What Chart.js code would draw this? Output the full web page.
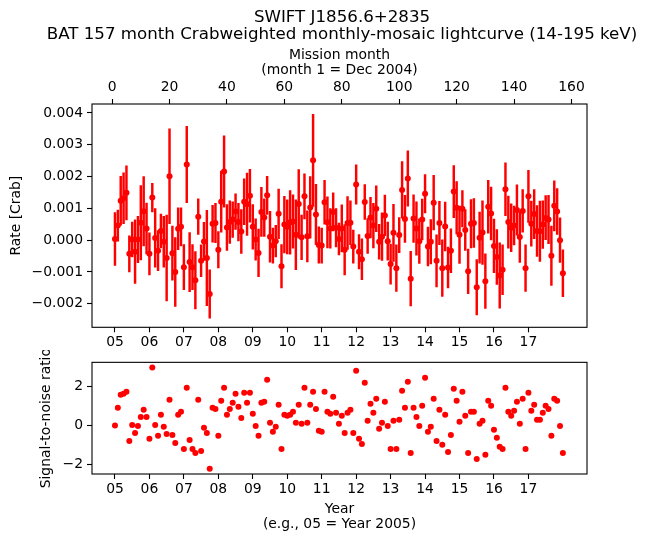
<!DOCTYPE html>
<html>
<head>
<meta charset="utf-8">
<script src="https://cdn.jsdelivr.net/npm/chart.js@4"></script>
<style>
  body { margin: 0; background: #fff; }
  #wrap { position: relative; width: 646px; height: 543px; }
  #top { position: absolute; left: 0; top: 0; }
  #bottom { position: absolute; left: 0; top: 350px; }
  #title {
    position: absolute; left: 42px; width: 600px; top: 8px;
    font-family: 'DejaVu Sans'; font-size: 16.67px; line-height: 17px;
    text-align: center; color: #000; white-space: nowrap;
  }
</style>
</head>
<body>
<div id="wrap">
  <canvas id="top" width="646" height="350"></canvas>
  <canvas id="bottom" width="646" height="193"></canvas>
  <div id="title">SWIFT J1856.6+2835<br>BAT 157 month Crabweighted monthly-mosaic lightcurve (14-195 keV)</div>
</div>
<script>
// mission month of each point (month 1 = Dec 2004)
const months = Array.from({length: 157}, (_, i) => i + 1);

// rate [Crab]
const rate = [
  0.00004, 0.00046, 0.00124, 0.00132, 0.00149, -0.00043, 0.00002, -0.00036, 0.00002, 0.00055,
  0.00091, 0.00037, -0.00043, 0.00134, 0.00007, -0.00033, 0.00029, -0.00005, -0.00056, 0.00201,
  -0.00041, -0.00100, 0.00036, 0.00042, -0.00085, 0.00238, -0.00069, -0.00085, -0.00126, 0.00074,
  -0.00065, -0.00004, -0.00056, -0.00169, 0.00052, 0.00054, -0.00030, 0.00121, 0.00216, 0.00040,
  0.00057, 0.00065, 0.00090, 0.00057, 0.00027, 0.00121, 0.00113, 0.00140, 0.00042, 0.00002,
  -0.00040, 0.00089, 0.00071, 0.00141, 0.00011, -0.00017, -0.00003, 0.00083, -0.00082, 0.00049,
  0.00042, 0.00056, 0.00059, 0.00017, 0.00114, 0.00009, 0.00138, 0.00012, 0.00103, 0.00251,
  0.00081, -0.00015, -0.00017, 0.00119, 0.00056, 0.00037, 0.00089, 0.00039, 0.00004, 0.00037,
  -0.00030, 0.00054, 0.00055, -0.00020, 0.00175, -0.00036, -0.00060, 0.00120, 0.00013, 0.00071,
  0.00046, 0.00099, -0.00005, 0.00011, 0.00078, -0.00003, -0.00075, 0.00023, -0.00088, 0.00016,
  0.00158, 0.00067, 0.00194, -0.00121, 0.00068, 0.00037, -0.00003, 0.00065, 0.00146, -0.00020,
  -0.00005, 0.00118, -0.00065, 0.00054, -0.00088, 0.00043, -0.00086, -0.00033, 0.00153, 0.00102,
  0.00017, 0.00099, 0.00032, -0.00098, 0.00052, 0.00054, -0.00148, 0.00008, 0.00024, -0.00129,
  0.00105, 0.00084, -0.00018, -0.00053, -0.00111, -0.00093, 0.00160, 0.00057, 0.00039, 0.00046,
  0.00095, 0.00010, 0.00092, -0.00088, 0.00138, 0.00052, 0.00082, 0.00029, 0.00028, 0.00049,
  0.00070, 0.00065, -0.00049, 0.00108, 0.00090, 0.00000, -0.00104
];

// 1-sigma error on the rate
const rateErr = [
  0.00083, 0.00049, 0.00077, 0.00080, 0.00085, 0.00057, 0.00055, 0.00100, 0.00073, 0.00117,
  0.00109, 0.00080, 0.00066, 0.00045, 0.00092, 0.00063, 0.00053, 0.00080, 0.00135, 0.00149,
  0.00085, 0.00108, 0.00066, 0.00060, 0.00071, 0.00120, 0.00093, 0.00071, 0.00090, 0.00056,
  0.00050, 0.00060, 0.00150, 0.00076, 0.00058, 0.00062, 0.00057, 0.00096, 0.00112, 0.00072,
  0.00067, 0.00056, 0.00056, 0.00059, 0.00069, 0.00072, 0.00098, 0.00083, 0.00070, 0.00065,
  0.00075, 0.00077, 0.00059, 0.00060, 0.00080, 0.00055, 0.00050, 0.00078, 0.00068, 0.00089,
  0.00085, 0.00100, 0.00084, 0.00110, 0.00108, 0.00070, 0.00071, 0.00080, 0.00097, 0.00145,
  0.00095, 0.00057, 0.00055, 0.00069, 0.00080, 0.00062, 0.00060, 0.00060, 0.00050, 0.00074,
  0.00079, 0.00083, 0.00069, 0.00052, 0.00062, 0.00054, 0.00064, 0.00055, 0.00055, 0.00064,
  0.00070, 0.00072, 0.00055, 0.00075, 0.00064, 0.00060, 0.00063, 0.00090, 0.00073, 0.00055,
  0.00089, 0.00074, 0.00087, 0.00086, 0.00075, 0.00084, 0.00070, 0.00064, 0.00060, 0.00061,
  0.00070, 0.00086, 0.00082, 0.00068, 0.00089, 0.00077, 0.00064, 0.00069, 0.00082, 0.00082,
  0.00090, 0.00057, 0.00064, 0.00070, 0.00076, 0.00077, 0.00087, 0.00080, 0.00100, 0.00086,
  0.00083, 0.00083, 0.00084, 0.00086, 0.00103, 0.00078, 0.00083, 0.00082, 0.00075, 0.00061,
  0.00079, 0.00080, 0.00067, 0.00073, 0.00082, 0.00071, 0.00077, 0.00080, 0.00095, 0.00075,
  0.00070, 0.00076, 0.00093, 0.00079, 0.00072, 0.00070, 0.00074
];

// signal-to-noise ratio
const snr = [
  0.00, 0.91, 1.57, 1.62, 1.73, -0.79, 0.03, -0.38, -0.02, 0.44,
  0.80, 0.44, -0.68, 2.96, 0.03, -0.53, 0.55, -0.07, -0.43, 1.32,
  -0.48, -0.89, 0.55, 0.70, -1.20, 1.93, -0.74, -1.20, -1.40, 1.32,
  -1.30, -0.12, -0.38, -2.21, 0.91, 0.85, -0.53, 1.26, 1.93, 0.55,
  0.85, 1.16, 1.62, 0.96, 0.39, 1.68, 1.16, 1.68, 0.60, -0.02,
  -0.53, 1.16, 1.21, 2.34, 0.14, -0.32, -0.07, 1.06, -1.20, 0.55,
  0.50, 0.55, 0.70, 0.14, 1.06, 0.09, 1.93, 0.14, 1.06, 1.73,
  0.85, -0.27, -0.32, 1.73, 0.70, 0.60, 1.47, 0.65, 0.09, 0.50,
  -0.38, 0.65, 0.80, -0.38, 2.80, -0.68, -0.94, 2.19, 0.24, 1.11,
  0.65, 1.37, -0.17, 0.14, 1.21, -0.02, -1.20, 0.24, -1.20, 0.29,
  1.78, 0.91, 2.24, -1.40, 0.91, 0.44, -0.02, 1.01, 2.44, -0.32,
  -0.07, 1.37, -0.79, 0.80, -0.99, 0.55, -1.35, -0.48, 1.88, 1.26,
  0.19, 1.73, 0.50, -1.40, 0.70, 0.70, -1.71, 0.09, 0.24, -1.50,
  1.26, 1.01, -0.22, -0.63, -1.09, -1.20, 1.93, 0.70, 0.50, 0.75,
  1.21, 0.09, 1.37, -1.20, 1.68, 0.75, 1.06, 0.29, 0.29, 0.65,
  1.01, 0.85, -0.53, 1.37, 1.26, -0.02, -1.40
];

// tick positions / labels
const monthTicks = [0, 20, 40, 60, 80, 100, 120, 140, 160];
const yearTickPos = [1, 13, 25, 37, 49, 61, 73, 85, 97, 109, 121, 133, 145];
const yearTickLabels = ['05', '06', '07', '08', '09', '10', '11', '12', '13', '14', '15', '16', '17'];
const rateTicks = [-0.002, -0.001, 0, 0.001, 0.002, 0.003, 0.004];
const rateTickLabels = ['\u22120.002', '\u22120.001', '0.000', '0.001', '0.002', '0.003', '0.004'];
const snrTicks = [-2, 0, 2];
const snrTickLabels = ['\u22122', '0', '2'];

const FONT = 'DejaVu Sans';
Chart.defaults.font.family = FONT;
Chart.defaults.font.size = 13.9;
Chart.defaults.color = '#000';

const xMin = -7, xMax = 165.4;

// matplotlib style frame around the plot area
const frame = {
  id: 'frame',
  afterDraw(chart) {
    const a = chart.chartArea, ctx = chart.ctx;
    ctx.save();
    ctx.strokeStyle = '#000';
    ctx.lineWidth = 1.1;
    ctx.strokeRect(a.left, a.top, a.right - a.left, a.bottom - a.top);
    ctx.restore();
  }
};

function tickAxis(extra) {
  return Object.assign({
    type: 'linear',
    offset: false,
    border: { display: false },
    grid: { offset: false, drawOnChartArea: false, drawTicks: true, tickLength: 5, color: '#000', tickWidth: 1.1 },
  }, extra);
}

function yearAxis(height, title) {
  return tickAxis({
    position: 'bottom', min: xMin, max: xMax,
    afterBuildTicks: s => { s.ticks = yearTickPos.map(v => ({value: v})); },
    afterFit: s => { s.height = height; },
    ticks: { autoSkip: false, maxRotation: 0, padding: 2, callback: (v, i) => yearTickLabels[i] },
    title: title
  });
}

new Chart(document.getElementById('top'), {
  type: 'scatter',
  data: {
    datasets: [
      {
        type: 'scatter',
        data: months.map((m, i) => ({x: m, y: rate[i]})),
        pointRadius: 3, pointBackgroundColor: '#ff0000', pointBorderWidth: 0,
        order: 0
      },
      {
        type: 'bar',
        data: months.map((m, i) => ({x: m, y: [rate[i] - rateErr[i], rate[i] + rateErr[i]]})),
        backgroundColor: '#ff0000', barThickness: 1.8, borderWidth: 0,
        order: 1
      }
    ]
  },
  options: {
    responsive: false, animation: false, events: [],
    layout: { padding: { left: 0, right: 59, top: 44.5, bottom: 0 } },
    plugins: { legend: { display: false }, tooltip: { enabled: false } },
    scales: {
      x: yearAxis(22.7, { display: false }),
      x2: tickAxis({
        position: 'top', min: xMin, max: xMax,
        afterBuildTicks: s => { s.ticks = monthTicks.map(v => ({value: v})); },
        afterFit: s => { s.height = 59.5; },
        ticks: { autoSkip: false, maxRotation: 0, padding: 3 },
        title: { display: true, text: ['Mission month', '(month 1 = Dec 2004)'],
                 font: { size: 13.9, lineHeight: 1.08 }, padding: { top: 3, bottom: 0 } }
      }),
      y: tickAxis({
        position: 'left', min: -0.00274, max: 0.004283,
        afterBuildTicks: s => { s.ticks = rateTicks.map(v => ({value: v})); },
        afterFit: s => { s.width = 92; },
        ticks: { autoSkip: false, padding: 4, callback: (v, i) => rateTickLabels[i] },
        title: { display: true, text: 'Rate [Crab]', font: { size: 13.9, lineHeight: 1.08 },
                 padding: { top: 8.5, bottom: 0 } }
      })
    }
  },
  plugins: [frame]
});

new Chart(document.getElementById('bottom'), {
  type: 'scatter',
  data: {
    datasets: [{
      data: months.map((m, i) => ({x: m, y: snr[i]})),
      pointRadius: 3, pointBackgroundColor: '#ff0000', pointBorderWidth: 0
    }]
  },
  options: {
    responsive: false, animation: false, events: [],
    layout: { padding: { left: 0, right: 59, top: 12, bottom: 0 } },
    plugins: { legend: { display: false }, tooltip: { enabled: false } },
    scales: {
      x: yearAxis(69, { display: true, text: ['Year', '(e.g., 05 = Year 2005)'],
                        font: { size: 13.9, lineHeight: 1.08 }, padding: { top: 0, bottom: 11.5 } }),
      y: tickAxis({
        position: 'left', min: -2.48, max: 3.23,
        afterBuildTicks: s => { s.ticks = snrTicks.map(v => ({value: v})); },
        afterFit: s => { s.width = 92; },
        ticks: { autoSkip: false, padding: 4, callback: (v, i) => snrTickLabels[i] },
        title: { display: true, text: 'Signal-to-noise ratio', font: { size: 13.9, lineHeight: 1.08 },
                 padding: { top: 38.5, bottom: 0 } }
      })
    }
  },
  plugins: [frame]
});
</script>
</body>
</html>
